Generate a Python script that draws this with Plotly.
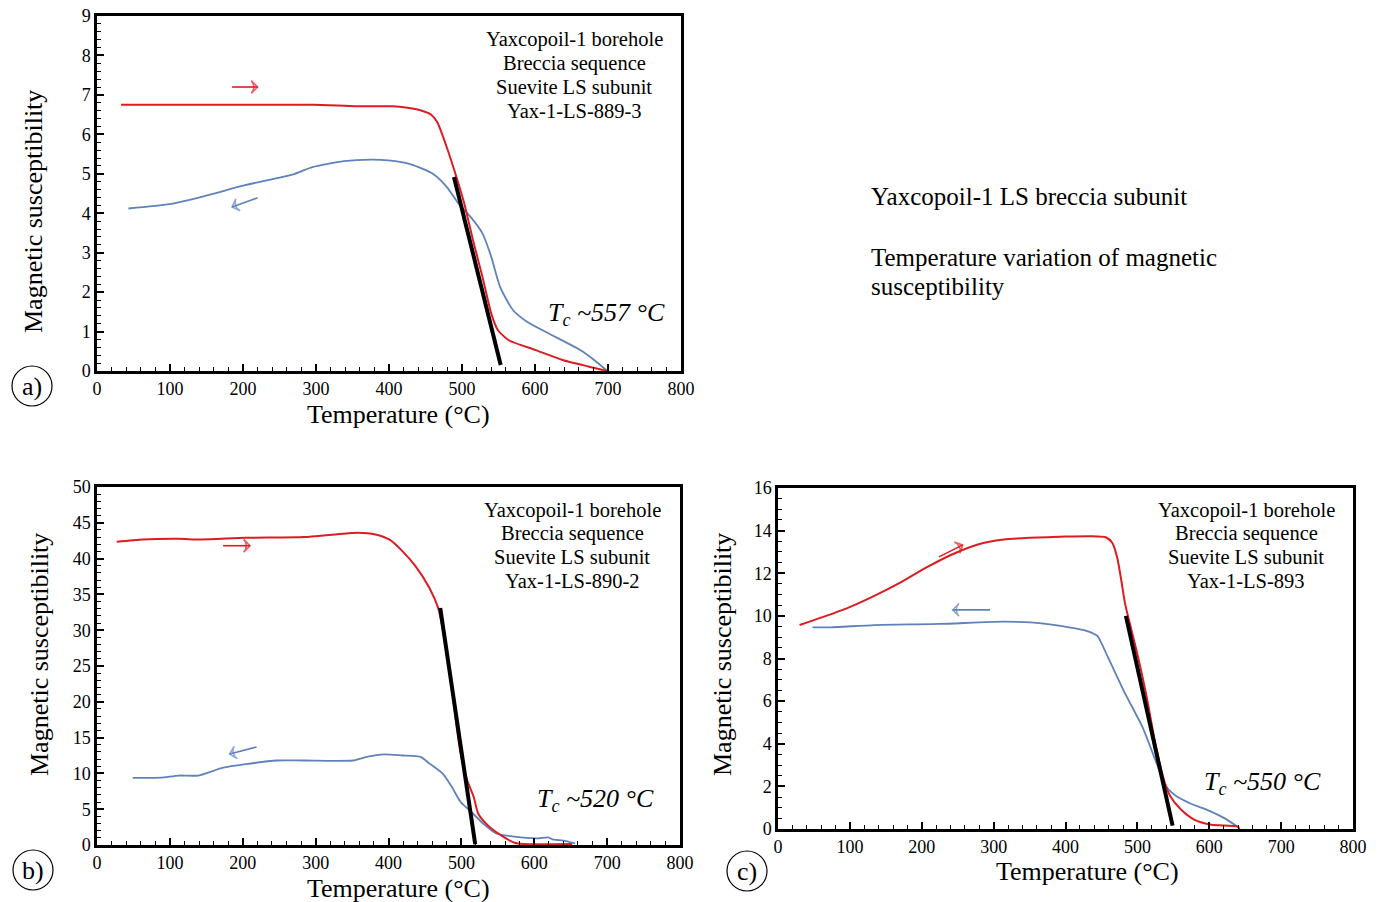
import plotly.graph_objects as go

W, H = 1379, 902
FONT = "Liberation Serif"
RED = "rgb(220,28,34)"
BLUE = "rgb(96,130,186)"

# ---------------- Panel a: Yax-1-LS-889-3 ----------------
a_heat_T = [33, 150, 295, 356, 405, 423, 445, 457, 466, 479, 491, 503, 515, 528, 540, 549, 564, 601, 638, 674, 699]
a_heat_k = [6.75, 6.75, 6.75, 6.71, 6.71, 6.68, 6.6, 6.51, 6.31, 5.68, 5.0, 4.25, 3.32, 2.39, 1.46, 1.04, 0.78, 0.53, 0.28, 0.11, 0.0]
a_cool_T = [43, 99, 142, 203, 271, 295, 338, 375, 399, 430, 460, 479, 497, 512, 528, 540, 552, 570, 589, 619, 662, 681, 698]
a_cool_k = [4.12, 4.23, 4.41, 4.71, 5.0, 5.17, 5.32, 5.36, 5.34, 5.24, 5.0, 4.67, 4.2, 3.9, 3.49, 2.9, 2.14, 1.54, 1.25, 0.95, 0.53, 0.28, 0.02]
a_tan_T = [489, 553]
a_tan_k = [4.92, 0.15]

# ---------------- Panel b: Yax-1-LS-890-2 ----------------
b_heat_T = [27, 63, 112, 143, 204, 284, 327, 358, 382, 401, 419, 437, 456, 468, 474, 480, 487, 493, 499, 508, 517, 523, 536, 554, 573, 585, 652]
b_heat_k = [42.35, 42.67, 42.76, 42.67, 42.9, 43.0, 43.37, 43.6, 43.37, 42.67, 41.05, 38.96, 35.94, 33.16, 30.4, 26.7, 22.0, 16.9, 12.75, 9.04, 6.7, 4.4, 2.78, 1.39, 0.32, 0.14, 0.14]
b_cool_T = [49, 87, 112, 139, 173, 204, 247, 284, 351, 370, 394, 419, 444, 456, 474, 487, 499, 511, 530, 548, 573, 603, 619, 625, 631, 640, 656]
b_cool_k = [9.37, 9.4, 9.7, 9.7, 10.8, 11.3, 11.8, 11.8, 11.8, 12.3, 12.66, 12.5, 12.3, 11.4, 10.0, 8.1, 6.0, 4.87, 3.0, 1.6, 1.16, 0.93, 1.07, 0.79, 0.7, 0.6, 0.23]
b_tan_T = [471, 519]
b_tan_k = [33.1, 0.1]

# ---------------- Panel c: Yax-1-LS-893 ----------------
c_heat_T = [30, 61, 98, 134, 170, 206, 242, 278, 314, 350, 400, 435, 456, 465, 472, 477, 483, 492, 501, 513, 525, 537, 546, 561, 579, 603, 639, 642]
c_heat_k = [9.57, 9.93, 10.39, 10.94, 11.56, 12.26, 12.88, 13.35, 13.58, 13.66, 13.72, 13.74, 13.69, 13.43, 12.73, 11.8, 10.55, 9.3, 8.06, 6.19, 4.0, 2.3, 1.52, 0.9, 0.44, 0.2, 0.12, 0.0]
c_cool_T = [48, 73, 134, 224, 314, 356, 405, 429, 444, 459, 483, 507, 525, 540, 555, 573, 597, 621, 642]
c_cool_k = [9.46, 9.46, 9.57, 9.62, 9.73, 9.68, 9.46, 9.3, 9.07, 8.06, 6.35, 4.79, 3.24, 1.99, 1.52, 1.21, 0.9, 0.51, 0.05]
c_tan_T = [484, 549]
c_tan_k = [10.0, 0.16]

# direction arrows: (panel, T tail, k tail, T head, k head, heating?)
arrow_tail_T = [185, 220, 173, 219, 224, 295]
arrow_tail_k = [7.2, 4.39, 41.8, 13.7, 12.77, 10.28]
arrow_head_T = [220, 185, 210, 182, 257, 243]
arrow_head_k = [7.2, 4.16, 41.8, 12.7, 13.33, 10.28]
arrow_panel = ["", "", "2", "2", "3", "3"]
arrow_heating = [True, False, True, False, True, False]

sample_text = ["Yaxcopoil-1 borehole", "Breccia sequence", "Suevite LS subunit"]
sample_ids = ["Yax-1-LS-889-3", "Yax-1-LS-890-2", "Yax-1-LS-893"]
curie = ["557", "520", "550"]
panel_letters = ["a)", "b)", "c)"]


def px2x(p):
    return p / W


def px2y(p):
    return 1 - p / H


panels = [
    ("", (97, 681), (16, 371), 9, 1, 0.2),
    ("2", (97, 680), (487, 845), 50, 5, 1),
    ("3", (778, 1353), (488, 829), 16, 2, 0.5),
]

fig = go.Figure()

series = [
    (a_heat_T, a_heat_k, a_cool_T, a_cool_k, a_tan_T, a_tan_k),
    (b_heat_T, b_heat_k, b_cool_T, b_cool_k, b_tan_T, b_tan_k),
    (c_heat_T, c_heat_k, c_cool_T, c_cool_k, c_tan_T, c_tan_k),
]

for (suf, _, _, _, _, _), (hT, hk, cT, ck, tT, tk) in zip(panels, series):
    xa, ya = "x" + suf, "y" + suf
    fig.add_trace(go.Scatter(x=cT, y=ck, mode="lines", line=dict(color=BLUE, width=1.8, shape="spline", smoothing=0.6),
                             xaxis=xa, yaxis=ya, showlegend=False, hoverinfo="skip"))
    fig.add_trace(go.Scatter(x=hT, y=hk, mode="lines", line=dict(color=RED, width=2, shape="spline", smoothing=0.6),
                             xaxis=xa, yaxis=ya, showlegend=False, hoverinfo="skip"))
    fig.add_trace(go.Scatter(x=tT, y=tk, mode="lines", line=dict(color="black", width=4),
                             xaxis=xa, yaxis=ya, showlegend=False, hoverinfo="skip"))

for t0, k0, t1, k1, suf, heat in zip(arrow_tail_T, arrow_tail_k, arrow_head_T, arrow_head_k, arrow_panel, arrow_heating):
    col = RED if heat else BLUE
    fig.add_trace(go.Scatter(
        x=[t0, t1], y=[k0, k1], mode="lines+markers",
        line=dict(color=col, width=1.6),
        marker=dict(symbol=["circle", "arrow-wide-open"], size=[0, 9], angleref="previous",
                    color=col, line=dict(color=col, width=1.6)),
        xaxis="x" + suf, yaxis="y" + suf, showlegend=False, hoverinfo="skip"))

layout = dict(
    width=W, height=H, margin=dict(l=0, r=0, t=0, b=0, autoexpand=False),
    paper_bgcolor="white", plot_bgcolor="white",
    font=dict(family=FONT, color="black"),
)

for suf, (x0, x1), (y0, y1), ymax, ydt, ymin in panels:
    layout["xaxis" + suf] = dict(
        domain=[px2x(x0), px2x(x1)], range=[0, 800], dtick=100, tick0=0,
        anchor="y" + suf, showgrid=False, zeroline=False,
        showline=True, linecolor="black", linewidth=2.5, mirror=True,
        ticks="inside", ticklen=7, tickwidth=1.5, tickcolor="black",
        minor=dict(dtick=20, ticks="inside", ticklen=4, tickwidth=1, tickcolor="black"),
        tickfont=dict(family=FONT, size=18, color="black"),
    )
    layout["yaxis" + suf] = dict(
        domain=[px2y(y1), px2y(y0)], range=[0, ymax], dtick=ydt, tick0=0,
        anchor="x" + suf, showgrid=False, zeroline=False,
        showline=True, linecolor="black", linewidth=2.5, mirror=True,
        ticks="inside", ticklen=7, tickwidth=1.5, tickcolor="black",
        minor=dict(dtick=ymin, ticks="inside", ticklen=4, tickwidth=1, tickcolor="black"),
        tickfont=dict(family=FONT, size=18, color="black"),
    )

fig.update_layout(**layout)

ann = []
shapes = []

# axis titles
xt_pos = [(398, 414), (398, 888), (1087, 871)]
yt_pos = [(33, 212), (39, 655), (722, 655)]
for (xp, yp) in xt_pos:
    ann.append(dict(x=px2x(xp), y=px2y(yp), xref="paper", yref="paper", text="Temperature (°C)",
                    showarrow=False, font=dict(family=FONT, size=26), xanchor="center", yanchor="middle"))
for (xp, yp) in yt_pos:
    ann.append(dict(x=px2x(xp), y=px2y(yp), xref="paper", yref="paper", text="Magnetic susceptibility",
                    showarrow=False, textangle=-90, font=dict(family=FONT, size=26), xanchor="center", yanchor="middle"))

# sample label blocks
block_pos = [(574, 40), (572, 510), (1246, 510)]
for (xp, yp), sid in zip(block_pos, sample_ids):
    for i, line in enumerate(sample_text + [sid]):
        ann.append(dict(x=px2x(xp), y=px2y(yp + i * 23.5), xref="paper", yref="paper", text=line,
                        showarrow=False, font=dict(family=FONT, size=20.5), xanchor="center", yanchor="middle"))

# Curie temperature labels
tc_pos = [(606, 314), (595, 800), (1262, 783)]
for (xp, yp), tc in zip(tc_pos, curie):
    ann.append(dict(x=px2x(xp), y=px2y(yp), xref="paper", yref="paper",
                    text=f"<i>T<sub>c</sub> ~{tc} °C</i>",
                    showarrow=False, font=dict(family=FONT, size=26), xanchor="center", yanchor="middle"))

# panel letters in circles
circ = [(32, 386), (33, 870), (747, 871)]
for (cx, cy), lab in zip(circ, panel_letters):
    r = 20
    shapes.append(dict(type="circle", xref="paper", yref="paper",
                       x0=px2x(cx - r), x1=px2x(cx + r), y0=px2y(cy + r), y1=px2y(cy - r),
                       line=dict(color="black", width=1.2)))
    ann.append(dict(x=px2x(cx), y=px2y(cy), xref="paper", yref="paper", text=lab, showarrow=False,
                    font=dict(family=FONT, size=26), xanchor="center", yanchor="middle"))

# right side description
desc = [("Yaxcopoil-1 LS breccia subunit", 197), ("Temperature variation of magnetic", 257), ("susceptibility", 287)]
for t, yp in desc:
    ann.append(dict(x=px2x(869), y=px2y(yp), xref="paper", yref="paper", text=t, showarrow=False,
                    font=dict(family=FONT, size=25), xanchor="left", yanchor="middle"))

fig.update_layout(annotations=ann, shapes=shapes)
fig.write_html(
    "out.html",
    config={"responsive": False, "displayModeBar": False},
    post_script="document.body.style.margin='0';document.body.style.padding='0';document.body.style.overflow='hidden';",
)
